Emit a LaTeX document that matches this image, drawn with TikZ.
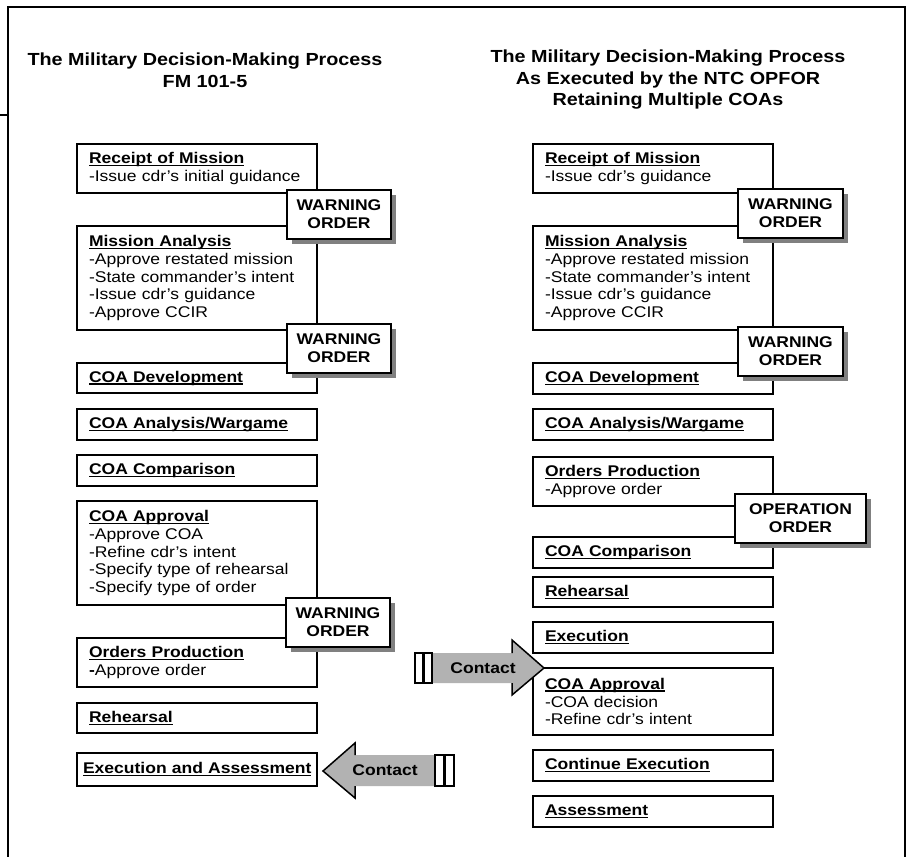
\documentclass[tikz,border=0pt]{standalone}
\usepackage{fontspec}
\setmainfont{Liberation Sans}[FakeStretch=1.13]
\usepackage{tikz}
\usetikzlibrary{positioning, shadows}
\definecolor{arrowgray}{HTML}{B2B2B2}
\definecolor{shadowgray}{HTML}{808080}
\newcommand{\boxfont}{\fontsize{15.5}{17.8}\selectfont}
\newcommand{\hdg}[1]{\textbf{\setbox0\hbox{#1}\rlap{\rule[-2.6pt]{\wd0}{1.4pt}}\box0}}

\begin{document}
\begin{tikzpicture}[
    x=1pt, y=-1pt,
    node distance=15pt,
    stage/.style={rectangle, draw, line width=1.8pt, outer sep=0pt, text width=216pt, inner xsep=12pt, inner ysep=2pt, align=left, font=\boxfont},
    ordbox/.style={rectangle, draw, line width=1.8pt, outer sep=0pt, fill=white, anchor=north west, minimum width=104pt, minimum height=49pt, align=center, font=\boxfont\bfseries, drop shadow={shadow xshift=5pt, shadow yshift=-5pt, fill=shadowgray, opacity=1}},
    title/.style={align=center, font=\fontsize{17.5}{21.5}\selectfont\bfseries},
    frame/.style={line width=2pt},
    head/.style={line width=1.5pt, line join=miter},
    bar/.style={line width=1.5pt, fill=white}
]

\useasboundingbox (0,0) rectangle (908,857);
\draw[frame] (8,857) -- (8,7) -- (905,7) -- (905,857);
\draw[frame] (0,115) -- (8,115);

\node[title] (titleL) at (205,70) {The Military Decision-Making Process\\FM 101-5};
\node[title] (titleR) at (668,80) {The Military Decision-Making Process\\As Executed by the NTC OPFOR\\Retaining Multiple COAs};

\node[stage, minimum height=49pt, anchor=north west] (rcptL) at (77,144) {\hdg{Receipt of Mission}\\-Issue cdr's initial guidance};
\node[stage, minimum height=104pt, below=33pt of rcptL] (missL) {\hdg{Mission Analysis}\\-Approve restated mission\\-State commander's intent\\-Issue cdr's guidance\\-Approve CCIR};
\node[stage, minimum height=30pt, below=33pt of missL] (devL) {\hdg{COA Development}};
\node[stage, minimum height=31pt, below=16pt of devL] (anaL) {\hdg{COA Analysis/Wargame}};
\node[stage, minimum height=31pt, below=of anaL] (cmpL) {\hdg{COA Comparison}};
\node[stage, minimum height=104pt, below=of cmpL] (apprL) {\hdg{COA Approval}\\-Approve COA\\-Refine cdr's intent\\-Specify type of rehearsal\\-Specify type of order};
\node[stage, minimum height=49pt, below=33pt of apprL] (prodL) {\hdg{Orders Production}\\\textbf{-}Approve order};
\node[stage, minimum height=30pt, below=16pt of prodL] (rehL) {\hdg{Rehearsal}};
\node[stage, minimum height=33pt, text width=228pt, inner xsep=6pt, below=20pt of rehL] (execL) {\hdg{Execution and Assessment}};

\node[stage, minimum height=49pt, anchor=north west] (rcptR) at (533,144) {\hdg{Receipt of Mission}\\-Issue cdr's guidance};
\node[stage, minimum height=104pt, below=33pt of rcptR] (missR) {\hdg{Mission Analysis}\\-Approve restated mission\\-State commander's intent\\-Issue cdr's guidance\\-Approve CCIR};
\node[stage, minimum height=31pt, below=33pt of missR] (devR) {\hdg{COA Development}};
\node[stage, minimum height=31pt, below=of devR] (anaR) {\hdg{COA Analysis/Wargame}};
\node[stage, minimum height=49pt, below=17pt of anaR] (prodR) {\hdg{Orders Production}\\-Approve order};
\node[stage, minimum height=31pt, below=31pt of prodR] (cmpR) {\hdg{COA Comparison}};
\node[stage, minimum height=30pt, below=9pt of cmpR] (rehR) {\hdg{Rehearsal}};
\node[stage, minimum height=31pt, below=of rehR] (execR) {\hdg{Execution}};
\node[stage, minimum height=67pt, below=of execR] (apprR) {\hdg{COA Approval}\\-COA decision\\-Refine cdr's intent};
\node[stage, minimum height=31pt, below=of apprR] (contR) {\hdg{Continue Execution}};
\node[stage, minimum height=31pt, below=of contR] (assR) {\hdg{Assessment}};

\node[ordbox] (warnL1) at (287,190) {WARNING\\ORDER};
\node[ordbox] (warnL2) at (287,324) {WARNING\\ORDER};
\node[ordbox] (warnL3) at (286,598) {WARNING\\ORDER};
\node[ordbox, minimum width=105pt] (warnR1) at (738,189) {WARNING\\ORDER};
\node[ordbox, minimum width=105pt] (warnR2) at (738,327) {WARNING\\ORDER};
\node[ordbox, minimum width=131pt] (opordR) at (735,494) {OPERATION\\ORDER};

\fill[arrowgray] (432,653) -- (512,653) -- (512,640) -- (544,668) -- (512,695) -- (512,683) -- (432,683) -- cycle;
\draw[head] (512,653) -- (512,640) -- (544,668) -- (512,695) -- (512,683);
\draw[bar] (415,653) rectangle (423,683) (424,653) rectangle (432,683);
\node[font=\boxfont\bfseries] (contactR) at (483,668) {Contact};

\fill[arrowgray] (434,755) -- (355,755) -- (355,743) -- (323,771) -- (355,798) -- (355,786) -- (434,786) -- cycle;
\draw[head] (355,755) -- (355,743) -- (323,771) -- (355,798) -- (355,786);
\draw[bar] (435,755) rectangle (444,786) (445,755) rectangle (454,786);
\node[font=\boxfont\bfseries] (contactL) at (385,770) {Contact};

\end{tikzpicture}
\end{document}
